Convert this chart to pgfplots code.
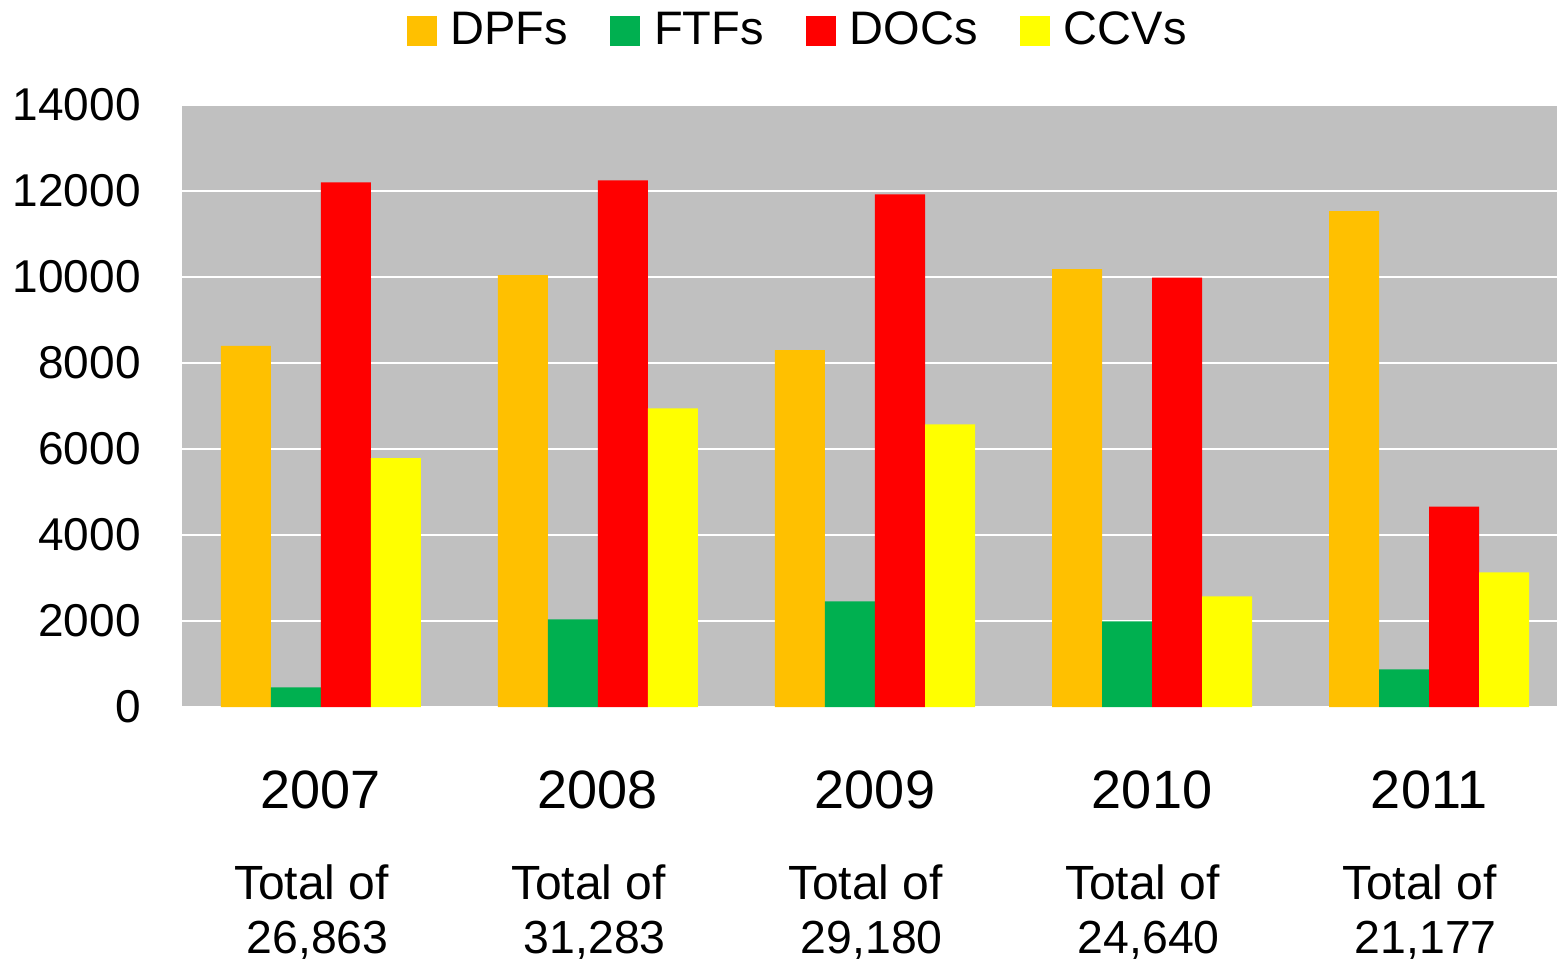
\documentclass[border=0pt]{standalone}
\usepackage{pgfplots}
\pgfplotsset{compat=1.18}
\usepackage{fontspec}
\setmainfont{Liberation Sans}
\definecolor{cDPF}{HTML}{FFC000}
\definecolor{cFTF}{HTML}{00B050}
\definecolor{cDOC}{HTML}{FF0000}
\definecolor{cCCV}{HTML}{FFFF00}
\definecolor{bggray}{HTML}{C0C0C0}
\newcommand{\yr}[1]{{\fontsize{13.5}{16}\selectfont #1}}
\newcommand{\tot}{\mbox{Total of\hspace{4.75pt}}}
\newcommand{\num}[1]{\mbox{\fontsize{11.6}{13.5}\selectfont #1\hspace{1.65pt}}}
\begin{document}
\begin{tikzpicture}
\path[use as bounding box] (-45.6pt,-64pt) rectangle (343.6pt,176.75pt);
\begin{axis}[
  at={(0pt,0pt)}, anchor=south west,
  scale only axis,
  width=346.25pt, height=150.5pt,
  ybar=0pt, bar width=12.5pt,
  xmin=-0.5, xmax=4.5,
  ymin=0, ymax=14000,
  ytick={0,2000,...,14000},
  scaled y ticks=false,
  xtick={0,1,2,3,4},
  xticklabels={
    {\yr{2007}\\[9.25pt]\tot\\\num{26,863}},
    {\yr{2008}\\[9.25pt]\tot\\\num{31,283}},
    {\yr{2009}\\[9.25pt]\tot\\\num{29,180}},
    {\yr{2010}\\[9.25pt]\tot\\\num{24,640}},
    {\yr{2011}\\[9.25pt]\tot\\\num{21,177}}},
  xticklabel style={align=center, font=\fontsize{12}{13.5}\selectfont, yshift=-8pt},
  yticklabel style={font=\fontsize{11.5}{13}\selectfont, xshift=-6.9pt},
  /pgf/number format/assume math mode=true,
  /pgf/number format/1000 sep={},
  axis line style={draw=none},
  tick style={draw=none},
  axis background/.style={fill=bggray},
  ymajorgrids,
  major grid style={white, line width=0.6pt},
  legend columns=-1,
  legend style={draw=none, fill=none, at={(0.4463,1.1225)}, anchor=center,
    font=\fontsize{11.75}{13}\selectfont,
    /tikz/every odd column/.append style={column sep=1.5pt},
    /tikz/every even column/.append style={column sep=8.5pt}},
  legend image code/.code={\fill[#1] (0pt,-3.7pt) rectangle (7.5pt,3.8pt);},
]
\addplot[fill=cDPF, draw=none] coordinates {(0,8400) (1,10046) (2,8300) (3,10184) (4,11531)};
\addplot[fill=cFTF, draw=none] coordinates {(0,458) (1,2040) (2,2459) (3,1994) (4,877)};
\addplot[fill=cDOC, draw=none] coordinates {(0,12200) (1,12245) (2,11923) (3,9985) (4,4662)};
\addplot[fill=cCCV, draw=none] coordinates {(0,5787) (1,6943) (2,6573) (3,2576) (4,3130)};
\legend{DPFs,FTFs,DOCs,CCVs}
\end{axis}
\end{tikzpicture}
\end{document}
